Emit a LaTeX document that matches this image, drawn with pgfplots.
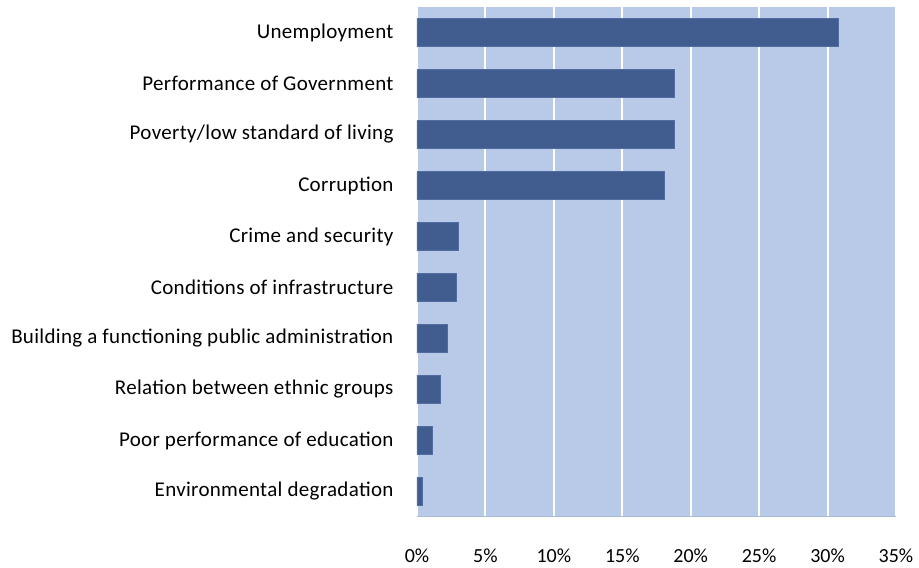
\documentclass[border=0pt]{standalone}
\usepackage{fontspec}
\setmainfont{Carlito}
\newfontfamily\ylabfont[LetterSpace=1.5]{Carlito}
\usepackage{pgfplots}
\pgfplotsset{compat=1.18}
\definecolor{barc}{RGB}{65,92,142}
\definecolor{baredge}{RGB}{80,108,160}
\definecolor{bgc}{RGB}{185,201,232}
\definecolor{axc}{RGB}{170,186,222}
\begin{document}
\begin{tikzpicture}
\begin{axis}[
 at={(417pt,51pt)}, anchor=south west,
 scale only axis, width=479pt, height=510pt,
 xbar, bar width=28pt,
 xmin=0, xmax=35, ymin=-0.5, ymax=9.5,
 ytick={0,...,9},
 yticklabels={Environmental degradation, Poor performance of education, Relation between ethnic groups, Building a functioning public administration, Conditions of infrastructure, Crime and security, Corruption, Poverty/low standard of living, Performance of Government, Unemployment},
 xtick={0,5,...,35},
 xticklabels={0\%,5\%,10\%,15\%,20\%,25\%,30\%,35\%},
 xmajorgrids, major grid style={white, line width=2pt},
 axis background/.style={fill=bgc},
 axis x line*=bottom, axis y line*=left,
 x axis line style={-, draw=axc, line width=1pt},
 y axis line style={-, draw=none},
 major tick length=0pt, tick style={draw=none},
 xticklabel style={font=\fontsize{20}{24}\selectfont},
 yticklabel style={font=\ylabfont\fontsize{21}{25}\selectfont},
 yticklabel shift=20pt, xticklabel shift=28pt,
]
\addplot[fill=barc, draw=baredge, line width=0.8pt] coordinates {(0.43,0) (1.15,1) (1.7,2) (2.2,3) (2.9,4) (3.0,5) (18.1,6) (18.8,7) (18.8,8) (30.8,9)};
\end{axis}
\pgfresetboundingbox
\path (0,0) rectangle (919pt,568pt);
\end{tikzpicture}
\end{document}
